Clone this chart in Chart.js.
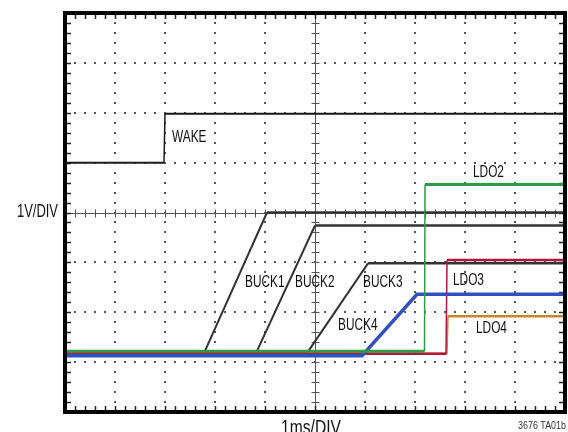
<!DOCTYPE html>
<html>
<head>
<meta charset="utf-8">
<script src="https://cdn.jsdelivr.net/npm/chart.js@4.4.1/dist/chart.umd.min.js"></script>
<style>
  html, body { margin: 0; padding: 0; background: #fff; }
  #wrap { width: 568px; height: 432px; position: relative; }
</style>
</head>
<body>
<div id="wrap"><canvas id="scope"></canvas></div>
<script>
// time in divisions (1ms/DIV), level in divisions (1V/DIV), 0 = bottom of screen
const wakeX  = [0, 1.98, 2.0, 10];
const wakeY  = [5.0, 5.0, 5.98, 5.98];
const buck1X = [0, 2.78, 4.04, 10];
const buck1Y = [1.18, 1.18, 4.0, 4.0];
const buck2X = [0, 3.82, 5.0, 10];
const buck2Y = [1.18, 1.18, 3.74, 3.74];
const buck3X = [0, 4.84, 6.06, 10];
const buck3Y = [1.18, 1.18, 2.98, 2.98];
const buck4X = [0, 5.94, 7.04, 10];
const buck4Y = [1.13, 1.13, 2.36, 2.36];
const ldo2X  = [0, 7.19, 7.2, 10];
const ldo2Y  = [1.22, 1.22, 4.56, 4.56];
const ldo3X  = [0, 7.62, 7.64, 10];
const ldo3Y  = [1.17, 1.17, 3.05, 3.05];
const ldo4X  = [0, 7.64, 7.66, 10];
const ldo4Y  = [1.17, 1.17, 1.92, 1.92];

const traceNames  = ['WAKE', 'BUCK1', 'BUCK2', 'BUCK3', 'BUCK4', 'LDO2', 'LDO3', 'LDO4'];
const labelX      = [2.14, 3.6, 4.6, 5.96, 5.46, 8.16, 7.76, 8.22];
const labelY      = [5.5, 2.6, 2.6, 2.6, 1.74, 4.8, 2.64, 1.68];

const xDivs = 10, yDivs = 8;

function pts(xs, ys) {
  return xs.map((x, i) => ({ x: x, y: ys[i] }));
}

const FONT = "'Liberation Sans', Arial, sans-serif";

// condensed look: squeeze regular sans horizontally
function narrowText(c, text, x, y, size, align, squeeze) {
  c.save();
  c.font = size + 'px ' + FONT;
  c.textAlign = align;
  c.translate(x, y);
  c.scale(squeeze || 0.74, 1);
  c.fillText(text, 0, 0);
  c.restore();
}

// thin vertical edges, ramps a little lighter than the flat parts
function trace(data, color, width, rampWidth) {
  return {
    data: data,
    borderColor: color,
    borderWidth: width,
    pointRadius: 0,
    showLine: true,
    tension: 0,
    segment: {
      borderWidth: ctx => {
        if (Math.abs(ctx.p1.x - ctx.p0.x) < 2) return 1.5;
        if (Math.abs(ctx.p1.y - ctx.p0.y) > 2) return rampWidth || width;
        return width;
      }
    }
  };
}

const scopeGrid = {
  id: 'scopeGrid',
  beforeDatasetsDraw(chart) {
    const c = chart.ctx, xs = chart.scales.x, ys = chart.scales.y;
    const a = chart.chartArea;
    c.save();
    c.fillStyle = '#555';
    // dotted grid
    for (let i = 1; i < xDivs; i++) {
      if (i === xDivs / 2) continue;
      const px = Math.round(xs.getPixelForValue(i));
      for (let k = 1; k < yDivs * 5; k++) {
        const py = Math.round(ys.getPixelForValue(k / 5));
        c.fillRect(px - 1, py - 1, 2, 2);
      }
    }
    for (let j = 1; j < yDivs; j++) {
      if (j === yDivs / 2) continue;
      const py = Math.round(ys.getPixelForValue(j));
      for (let k = 1; k < xDivs * 5; k++) {
        const px = Math.round(xs.getPixelForValue(k / 5));
        c.fillRect(px - 1, py - 1, 2, 2);
      }
    }
    // center crosshair with ticks
    c.strokeStyle = '#555';
    c.lineWidth = 1;
    const cx = Math.round(xs.getPixelForValue(xDivs / 2)) + 0.5;
    const cy = Math.round(ys.getPixelForValue(yDivs / 2)) + 0.5;
    c.beginPath();
    c.moveTo(a.left, cy); c.lineTo(a.right, cy);
    c.moveTo(cx, a.top); c.lineTo(cx, a.bottom);
    for (let k = 1; k < xDivs * 5; k++) {
      const px = Math.round(xs.getPixelForValue(k / 5)) + 0.5;
      c.moveTo(px, cy - 4); c.lineTo(px, cy + 4);
    }
    for (let k = 1; k < yDivs * 5; k++) {
      const py = Math.round(ys.getPixelForValue(k / 5)) + 0.5;
      c.moveTo(cx - 4, py); c.lineTo(cx + 4, py);
    }
    c.stroke();
    // ticks on the frame
    c.strokeStyle = '#222';
    c.lineWidth = 1.5;
    c.beginPath();
    for (let k = 1; k < xDivs * 5; k++) {
      const px = Math.round(xs.getPixelForValue(k / 5)) + 0.5;
      c.moveTo(px, a.top); c.lineTo(px, a.top + 6);
      c.moveTo(px, a.bottom); c.lineTo(px, a.bottom - 6);
    }
    for (let k = 1; k < yDivs * 5; k++) {
      const py = Math.round(ys.getPixelForValue(k / 5)) + 0.5;
      c.moveTo(a.left, py); c.lineTo(a.left + 6, py);
      c.moveTo(a.right, py); c.lineTo(a.right - 6, py);
    }
    c.stroke();
    c.restore();
  },
  afterDraw(chart) {
    const c = chart.ctx, xs = chart.scales.x, ys = chart.scales.y;
    const a = chart.chartArea;
    c.save();
    c.strokeStyle = '#000';
    c.lineWidth = 4;
    c.strokeRect(a.left, a.top, a.right - a.left, a.bottom - a.top);

    c.fillStyle = '#111';
    c.textBaseline = 'middle';
    traceNames.forEach((name, i) => {
      narrowText(c, name, xs.getPixelForValue(labelX[i]), ys.getPixelForValue(labelY[i]), 16, 'left');
    });

    narrowText(c, '1V/DIV', a.left - 7, ys.getPixelForValue(yDivs / 2), 17.5, 'right');

    c.textBaseline = 'alphabetic';
    narrowText(c, '1ms/DIV', xs.getPixelForValue(xDivs / 2) - 4, 434, 20, 'center', 0.78);

    c.fillStyle = '#333';
    narrowText(c, '3676 TA01b', 566, 429, 10.5, 'right', 0.85);
    c.restore();
  }
};

new Chart(document.getElementById('scope'), {
  type: 'scatter',
  data: {
    datasets: [
      trace(pts(ldo2X, ldo2Y), '#2f9c45', 3),
      trace(pts(buck4X, buck4Y), '#3350bf', 3.5, 3.5),
      trace(pts(ldo3X, ldo3Y), '#b3173f', 2.5),
      trace(pts(ldo4X, ldo4Y), '#c8862c', 2.5),
      trace(pts(buck1X, buck1Y), '#333', 2.5, 2),
      trace(pts(buck2X, buck2Y), '#333', 2.5, 2),
      trace(pts(buck3X, buck3Y), '#333', 2.5, 2),
      trace(pts(wakeX, wakeY), '#1a1a1a', 2)
    ]
  },
  options: {
    responsive: true,
    maintainAspectRatio: false,
    animation: false,
    events: [],
    layout: { padding: { left: 65, right: 3, top: 13, bottom: 20 } },
    plugins: { legend: { display: false }, tooltip: { enabled: false } },
    scales: {
      x: { type: 'linear', min: 0, max: xDivs, display: false },
      y: { type: 'linear', min: 0, max: yDivs, display: false }
    }
  },
  plugins: [scopeGrid]
});
</script>
</body>
</html>
